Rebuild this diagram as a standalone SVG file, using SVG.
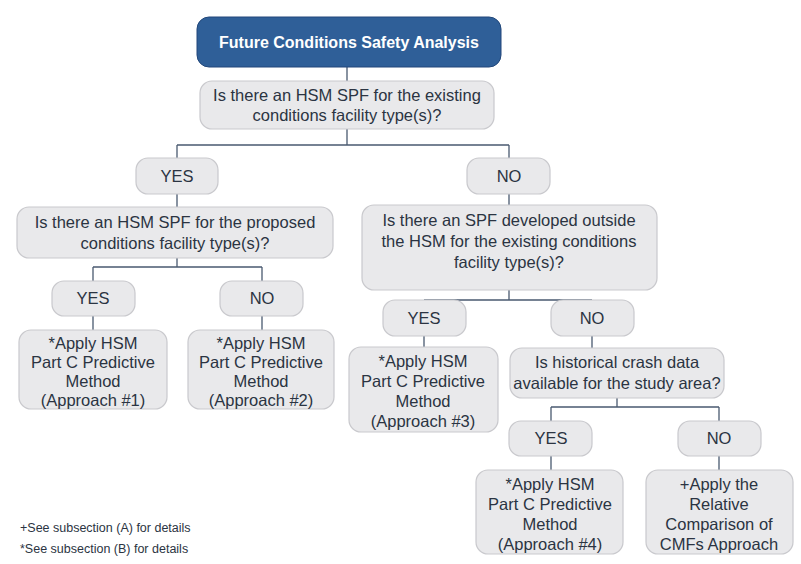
<svg xmlns="http://www.w3.org/2000/svg" width="801" height="564" viewBox="0 0 801 564">
<style>
.b{fill:#e9e9eb;stroke:#c9c9cd;stroke-width:1.2}
.t{font-family:"Liberation Sans",Arial,sans-serif;font-size:16.5px;fill:#2b3442;text-anchor:middle}
.c{fill:none;stroke:#4a5a70;stroke-width:1.3}
.f{font-family:"Liberation Sans",Arial,sans-serif;font-size:12.5px;fill:#2b3442}
</style>
<rect width="801" height="564" fill="#fff"/>
<g id="connectors" class="c">
<path d="M347 67V81M347 129V145M177 145H509M177 145V158M509 145V158M177 194V207M509 194V205"/>
<path d="M177 258V267M93 267H262M93 267V281M262 267V281M93 316V330M262 316V330"/>
<path d="M509 290V300M424 300H592M424 300V300M592 300V300M424 336V347M592 336V348"/>
<path d="M617 398V407M551 407H719M551 407V421M719 407V421M551 456V470M719 456V470"/>
</g>
<g id="title"><rect x="197" y="17" width="304" height="50" rx="12" fill="#2f5f98" stroke="#22477a"/><text x="349" y="48" class="t" style="fill:#fff;font-weight:bold;font-size:16px">Future Conditions Safety Analysis</text></g>
<g id="q1"><rect class="b" x="200" y="81" width="294" height="48" rx="12"/><text class="t" x="347" y="101">Is there an HSM SPF for the existing</text><text class="t" x="347" y="121">conditions facility type(s)?</text></g>
<g id="yes1"><rect class="b" x="136" y="158" width="82" height="36" rx="12"/><text class="t" x="177" y="182">YES</text></g>
<g id="no1"><rect class="b" x="467" y="158" width="83" height="36" rx="12"/><text class="t" x="509" y="182">NO</text></g>
<g id="q2"><rect class="b" x="17" y="207" width="316" height="51" rx="12"/><text class="t" x="175" y="228">Is there an HSM SPF for the proposed</text><text class="t" x="175" y="249">conditions facility type(s)?</text></g>
<g id="q3"><rect class="b" x="362" y="205" width="295" height="85" rx="12"/><text class="t" x="509" y="226">Is there an SPF developed outside</text><text class="t" x="509" y="247">the HSM for the existing conditions</text><text class="t" x="509" y="268">facility type(s)?</text></g>
<g id="yes2"><rect class="b" x="52" y="281" width="83" height="35" rx="12"/><text class="t" x="93" y="304">YES</text></g>
<g id="no2"><rect class="b" x="220" y="281" width="83" height="35" rx="12"/><text class="t" x="262" y="304">NO</text></g>
<g id="a1"><rect class="b" x="19" y="330" width="148" height="79" rx="12"/><text class="t" x="93" y="349">*Apply HSM</text><text class="t" x="93" y="368">Part C Predictive</text><text class="t" x="93" y="387">Method</text><text class="t" x="93" y="406">(Approach #1)</text></g>
<g id="a2"><rect class="b" x="188" y="330" width="146" height="79" rx="12"/><text class="t" x="261" y="349">*Apply HSM</text><text class="t" x="261" y="368">Part C Predictive</text><text class="t" x="261" y="387">Method</text><text class="t" x="261" y="406">(Approach #2)</text></g>
<g id="yes3"><rect class="b" x="383" y="300" width="83" height="36" rx="12"/><text class="t" x="424" y="324">YES</text></g>
<g id="no3"><rect class="b" x="551" y="300" width="83" height="36" rx="12"/><text class="t" x="592" y="324">NO</text></g>
<g id="a3"><rect class="b" x="349" y="347" width="149" height="85" rx="12"/><text class="t" x="423" y="367">*Apply HSM</text><text class="t" x="423" y="387">Part C Predictive</text><text class="t" x="423" y="407">Method</text><text class="t" x="423" y="427">(Approach #3)</text></g>
<g id="q4"><rect class="b" x="510" y="348" width="214" height="50" rx="12"/><text class="t" x="617" y="368">Is historical crash data</text><text class="t" x="617" y="389">available for the study area?</text></g>
<g id="yes4"><rect class="b" x="509" y="421" width="83" height="35" rx="12"/><text class="t" x="551" y="444">YES</text></g>
<g id="no4"><rect class="b" x="678" y="421" width="83" height="35" rx="12"/><text class="t" x="719" y="444">NO</text></g>
<g id="a4"><rect class="b" x="476" y="470" width="147" height="84" rx="12"/><text class="t" x="550" y="490">*Apply HSM</text><text class="t" x="550" y="510">Part C Predictive</text><text class="t" x="550" y="530">Method</text><text class="t" x="550" y="550">(Approach #4)</text></g>
<g id="a5"><rect class="b" x="646" y="470" width="147" height="84" rx="12"/><text class="t" x="719" y="490">+Apply the</text><text class="t" x="719" y="510">Relative</text><text class="t" x="719" y="530">Comparison of</text><text class="t" x="719" y="550">CMFs Approach</text></g>
<g id="notes"><text class="f" x="20" y="532">+See subsection (A) for details</text><text class="f" x="20" y="553">*See subsection (B) for details</text></g>
</svg>
